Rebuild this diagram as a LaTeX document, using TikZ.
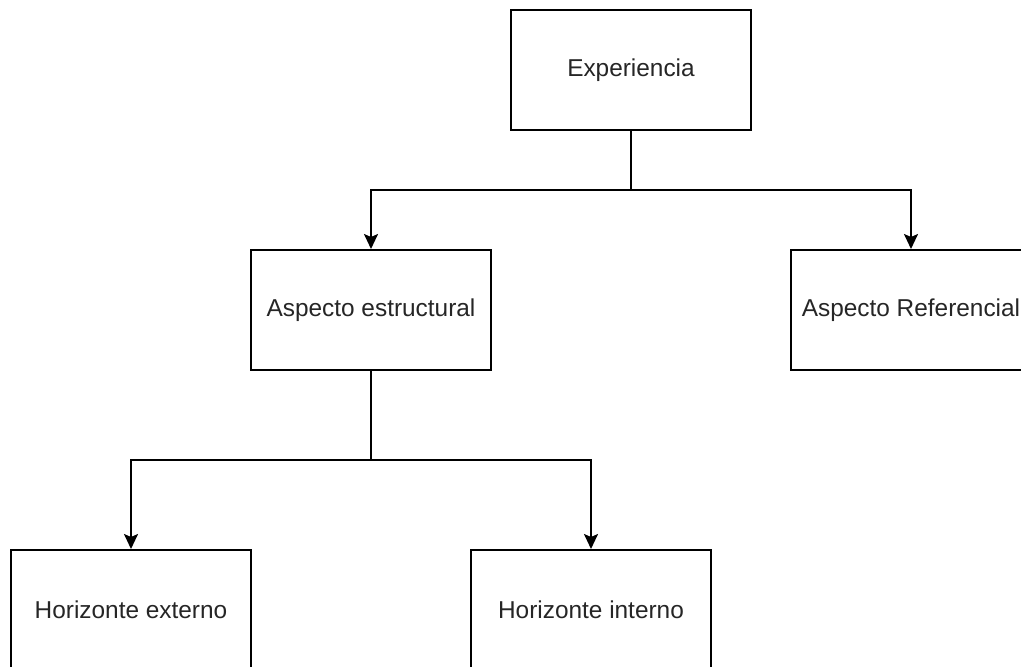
\documentclass[tikz,border=0pt]{standalone}
\usepackage{fontspec}
\setmainfont{Liberation Sans}
\usetikzlibrary{arrows.meta}
\begin{document}
\begin{tikzpicture}[x=1pt,y=-1pt,
  box/.style={draw=black,line width=2pt,minimum width=240pt,minimum height=120pt,inner sep=0pt,
    font=\fontsize{24.4}{28}\selectfont,text=black!85},
  conn/.style={line width=2pt,draw=black},
  arr/.style={conn,-{Stealth[length=15pt,width=14pt,inset=3pt]}}]
\useasboundingbox (0,0) rectangle (1021,667);
\clip (0,0) rectangle (1021,667);
\fill[white] (0,0) rectangle (1021,667);
\node[box] (exp) at (631,70) {Experiencia};
\node[box] (est) at (371,310) {Aspecto estructural};
\node[box] (ref) at (911,310) {Aspecto Referencial};
\node[box] (ext) at (131,610) {Horizonte externo};
\node[box] (int) at (591,610) {Horizonte interno};
\coordinate (j1) at (631,190);
\coordinate (j2) at (371,460);
\draw[conn] (exp.south) -- (j1);
\draw[arr] (j1) -| (est.north);
\draw[arr] (j1) -| (ref.north);
\draw[conn] (est.south) -- (j2);
\draw[arr] (j2) -| (ext.north);
\draw[arr] (j2) -| (int.north);
\end{tikzpicture}
\end{document}
